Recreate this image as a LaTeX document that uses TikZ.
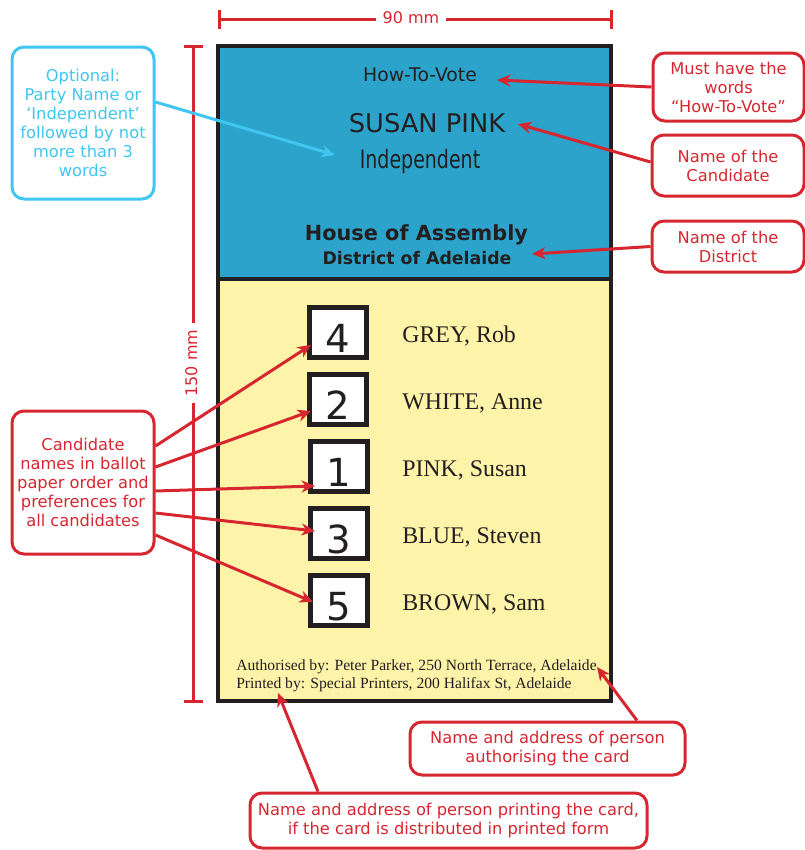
\documentclass[tikz,border=0pt]{standalone}
\usepackage{fontspec}
\usepackage{graphicx}
\setmainfont{DejaVu Sans}
\newfontfamily\serifx{Liberation Serif}
\usetikzlibrary{arrows.meta,calc}
\definecolor{redA}{HTML}{D6262F}
\definecolor{cyanA}{HTML}{40C6F0}
\definecolor{blueA}{HTML}{2BA3CB}
\definecolor{yellowA}{HTML}{FDF4A9}
\definecolor{darkA}{HTML}{231F20}
\begin{document}
\begin{tikzpicture}[x=0.75pt,y=-0.75pt,
  note/.style={draw=redA, line width=2.25pt, rounded corners=9pt, text=redA, align=center,
    font=\fontsize{12.2}{14.3}\selectfont, inner sep=0pt},
  arr/.style={draw=redA, line width=2.25pt, -{Stealth[length=10pt,width=9pt,inset=3pt]}},
  dim/.style={draw=redA, line width=2.25pt},
  dimtxt/.style={text=redA, font=\fontsize{12}{14}\selectfont, inner ysep=0pt, inner xsep=5pt},
  numbox/.style={draw=darkA, fill=white, line width=3.75pt, minimum width={57*0.75pt},
    minimum height={50*0.75pt}, inner sep=0pt},
  numtxt/.style={text=darkA, font=\fontsize{29}{30}\selectfont, inner sep=0pt, anchor=base},
  cname/.style={text=darkA, font=\serifx\fontsize{17.9}{20}\selectfont, inner sep=0pt, anchor=base west},
  cardtxt/.style={text=darkA, inner sep=0pt, anchor=base},
]
\useasboundingbox (0,0) rectangle (805,850);

% ---- card ----
\fill[blueA] (218,46) rectangle (611,279);
\fill[yellowA] (218,279) rectangle (611,701);
\draw[darkA, line width=2.4pt] (218,46) rectangle (611,701);
\draw[darkA, line width=2.4pt] (218,279) -- (611,279);

\node[cardtxt, font=\fontsize{14.1}{16}\selectfont] (htv) at (420,81) {How-To-Vote};
\node[cardtxt, font=\fontsize{19.3}{22}\selectfont] (susan) at (427,132) {SUSAN PINK};
\node[cardtxt, font=\fontsize{19}{22}\selectfont] (indep) at (420,168) {\scalebox{0.75}[1]{Independent}};
\node[cardtxt, font=\bfseries\fontsize{15.6}{18}\selectfont] (house) at (416.5,240) {House of Assembly};
\node[cardtxt, font=\bfseries\fontsize{13}{15}\selectfont] (district) at (417,264) {District of Adelaide};

% ballot boxes
\node[numbox] (b4) at (338,332) {};
\node[numbox] (b2) at (338,399) {};
\node[numbox] (b1) at (339,466) {};
\node[numbox] (b3) at (339,533) {};
\node[numbox] (b5) at (339,600) {};
\node[numtxt] (n4) at (338,352) {4};
\node[numtxt] (n2) at (338,419) {2};
\node[numtxt] (n1) at (339,486) {1};
\node[numtxt] (n3) at (339,553) {3};
\node[numtxt] (n5) at (339,620) {5};
\node[cname] (c4) at (402,342) {GREY, Rob};
\node[cname] (c2) at (402,409) {WHITE, Anne};
\node[cname] (c1) at (402,476) {PINK, Susan};
\node[cname] (c3) at (402,543) {BLUE, Steven};
\node[cname] (c5) at (402,610) {BROWN, Sam};

\node[text=darkA, inner sep=0pt, anchor=base west, font=\serifx\fontsize{11.7}{13.5}\selectfont] (authl) at (236,670) {Authorised by: Peter Parker, 250 North Terrace, Adelaide};
\node[text=darkA, inner sep=0pt, anchor=base west, font=\serifx\fontsize{11.7}{13.5}\selectfont] (printl) at (236,688) {Printed by: Special Printers, 200 Halifax St, Adelaide};

% ---- dimensions ----
\coordinate (tl) at (219,19);
\coordinate (tr) at (611,19);
\node[dimtxt, anchor=base] (d90) at (411,23) {90 mm};
\draw[dim] (tl) -- (tl -| d90.west);
\draw[dim] (tr -| d90.east) -- (tr);
\draw[dim] ($(tl)+(0,-9.5)$) -- ($(tl)+(0,9.5)$);
\draw[dim] ($(tr)+(0,-9.5)$) -- ($(tr)+(0,9.5)$);

\coordinate (lt) at (193,46);
\coordinate (lb) at (193,701);
\node[dimtxt, anchor=base, rotate=90] (d150) at (197,363) {150 mm};
\draw[dim] (lt) -- (lt |- d150.east);
\draw[dim] (lb |- d150.west) -- (lb);
\draw[dim] ($(lt)+(-9.5,0)$) -- ($(lt)+(9.5,0)$);
\draw[dim] ($(lb)+(-9.5,0)$) -- ($(lb)+(9.5,0)$);

% ---- annotations ----
\node[note, draw=cyanA, text=cyanA, minimum width={142*0.75pt}, minimum height={152*0.75pt}] (opt) at (83,123)
  {Optional:\\Party Name or\\‘Independent’\\followed by not\\more than 3\\words};
\node[note, minimum width={151*0.75pt}, minimum height={68*0.75pt}] (must) at (728.5,87)
  {Must have the\\words\\“How-To-Vote”};
\node[note, minimum width={152*0.75pt}, minimum height={61*0.75pt}] (candn) at (728,165.5)
  {Name of the\\Candidate};
\node[note, minimum width={152*0.75pt}, minimum height={51*0.75pt}] (dist) at (728,246.5)
  {Name of the\\District};
\node[note, minimum width={142*0.75pt}, minimum height={143*0.75pt}] (cand) at (83,482.5)
  {Candidate\\names in ballot\\paper order and\\preferences for\\all candidates};
\node[note, minimum width={275*0.75pt}, minimum height={53*0.75pt}] (auth) at (547.5,748.5)
  {Name and address of person\\authorising the card};
\node[note, minimum width={397*0.75pt}, minimum height={55*0.75pt}] (print) at (448.5,820.5)
  {Name and address of person printing the card,\\if the card is distributed in printed form};

% arrow targets
\coordinate (tOpt) at (335,155);
\coordinate (tHow) at (497,80);
\coordinate (tCandn) at (518,124);
\coordinate (tDist) at (532,254);
\coordinate (t4) at (311,345);
\coordinate (t2) at (311,411);
\coordinate (t1) at (315,486);
\coordinate (t3) at (315,531);
\coordinate (t5) at (313,602);
\coordinate (tAuth) at (597,667);
\coordinate (tPrint) at (278,693);

\draw[arr, draw=cyanA] ($(opt.east)+(0,-21)$) -- (tOpt);
\draw[arr] (must.west) -- (tHow);
\draw[arr] ($(candn.west)+(0,-3.5)$) -- (tCandn);
\draw[arr] (dist.west) -- (tDist);
\draw[arr] ($(cand.east)+(0,-36.5)$) -- (t4);
\draw[arr] ($(cand.east)+(0,-15.5)$) -- (t2);
\draw[arr] ($(cand.east)+(0,8.5)$) -- (t1);
\draw[arr] ($(cand.east)+(0,30.5)$) -- (t3);
\draw[arr] ($(cand.east)+(0,52.5)$) -- (t5);
\draw[arr] ($(auth.north)+(89.5,0)$) -- (tAuth);
\draw[arr] ($(print.north)+(-130.5,0)$) -- (tPrint);
\end{tikzpicture}
\end{document}
